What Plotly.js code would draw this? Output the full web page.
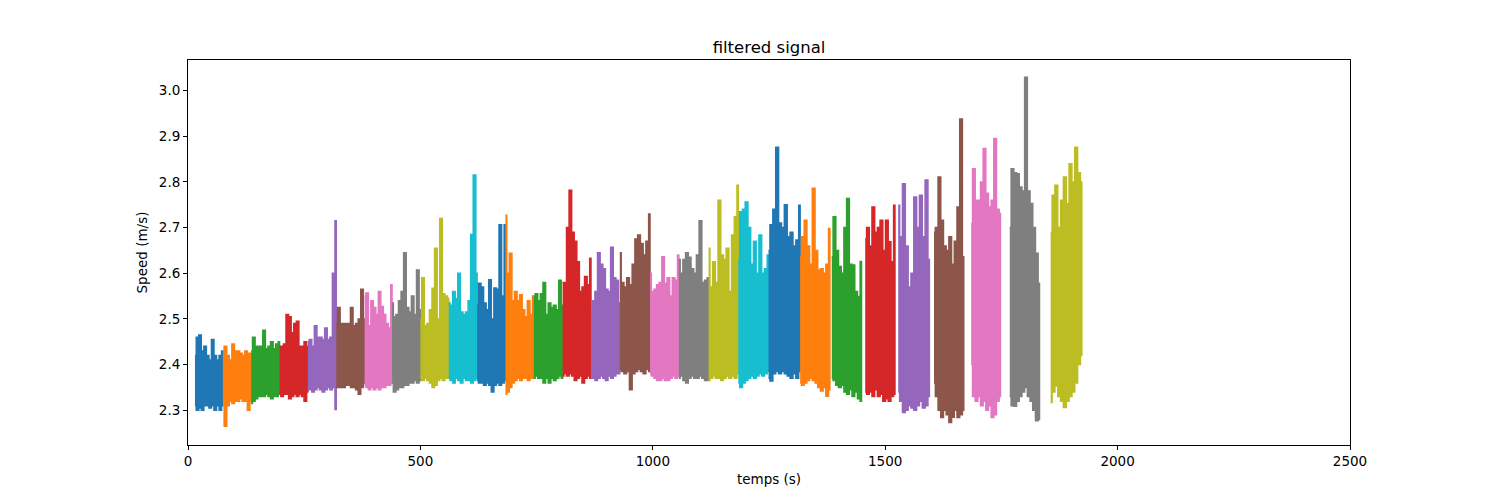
<!DOCTYPE html>
<html>
<head>
<meta charset="utf-8">
<script src="https://cdn.plot.ly/plotly-3.0.1.min.js"></script>
<style>
  html, body { margin: 0; padding: 0; background: #fff; }
  #chart { width: 1500px; height: 500px; }
</style>
</head>
<body>
<div id="chart"></div>
<script>
// each run of the signal: start / end time (s)
var segStart = [15, 75, 136, 197, 258, 319, 380, 439, 500, 561, 622, 683, 744, 806, 867,
                929, 994, 1056, 1120, 1184, 1249, 1317, 1385, 1457, 1528, 1605, 1685, 1768, 1856];
var segEnd   = [75, 136, 197, 258, 319, 380, 439, 500, 561, 622, 683, 744, 806, 867, 929,
                994, 1056, 1120, 1184, 1249, 1317, 1381, 1449, 1521, 1595, 1669, 1748, 1832, 1923];

// upper envelope of every run (m/s), evenly spread over the run
var topValues = [
  [2.42, 2.46, 2.465, 2.43, 2.44, 2.42, 2.41, 2.455, 2.42, 2.41, 2.42, 2.43],
  [2.42, 2.44, 2.42, 2.41, 2.445, 2.43, 2.43, 2.425, 2.42, 2.43, 2.425, 2.425],
  [2.43, 2.46, 2.44, 2.44, 2.44, 2.475, 2.435, 2.44, 2.45, 2.435, 2.445, 2.45],
  [2.44, 2.44, 2.445, 2.51, 2.505, 2.47, 2.49, 2.495, 2.44, 2.44, 2.45, 2.44],
  [2.45, 2.455, 2.44, 2.485, 2.46, 2.46, 2.455, 2.48, 2.455, 2.46, 2.6, 2.715],
  [2.49, 2.525, 2.49, 2.49, 2.49, 2.49, 2.525, 2.485, 2.49, 2.5, 2.565, 2.5],
  [2.55, 2.557, 2.485, 2.54, 2.525, 2.51, 2.56, 2.527, 2.51, 2.49, 2.48, 2.575],
  [2.535, 2.505, 2.51, 2.54, 2.56, 2.645, 2.525, 2.515, 2.55, 2.51, 2.607, 2.52],
  [2.5, 2.59, 2.485, 2.49, 2.52, 2.567, 2.655, 2.5, 2.72, 2.555, 2.55, 2.545],
  [2.535, 2.53, 2.56, 2.545, 2.6, 2.515, 2.51, 2.515, 2.54, 2.685, 2.815, 2.6],
  [2.53, 2.578, 2.57, 2.535, 2.52, 2.586, 2.5, 2.568, 2.565, 2.706, 2.55, 2.706],
  [2.727, 2.6, 2.644, 2.54, 2.56, 2.54, 2.553, 2.52, 2.505, 2.54, 2.51, 2.55],
  [2.55, 2.555, 2.54, 2.555, 2.58, 2.51, 2.535, 2.525, 2.53, 2.52, 2.585, 2.53],
  [2.58, 2.58, 2.7, 2.782, 2.69, 2.67, 2.625, 2.56, 2.57, 2.593, 2.575, 2.633],
  [2.52, 2.54, 2.56, 2.645, 2.62, 2.61, 2.565, 2.56, 2.657, 2.59, 2.585, 2.535],
  [2.645, 2.58, 2.57, 2.59, 2.575, 2.62, 2.675, 2.684, 2.665, 2.64, 2.67, 2.73],
  [2.6, 2.56, 2.565, 2.575, 2.58, 2.636, 2.578, 2.59, 2.55, 2.59, 2.585, 2.64],
  [2.63, 2.6, 2.63, 2.645, 2.635, 2.61, 2.6, 2.64, 2.715, 2.58, 2.585, 2.59],
  [2.655, 2.57, 2.625, 2.58, 2.76, 2.64, 2.63, 2.655, 2.56, 2.684, 2.724, 2.793],
  [2.63, 2.735, 2.74, 2.756, 2.7, 2.62, 2.67, 2.6, 2.684, 2.6, 2.61, 2.64],
  [2.65, 2.706, 2.74, 2.876, 2.71, 2.7, 2.75, 2.68, 2.69, 2.66, 2.673, 2.749],
  [2.636, 2.68, 2.716, 2.66, 2.62, 2.786, 2.65, 2.607, 2.61, 2.6, 2.62, 2.698],
  [2.636, 2.724, 2.65, 2.615, 2.6, 2.7, 2.764, 2.62, 2.618, 2.56, 2.549, 2.626],
  [2.675, 2.7, 2.66, 2.745, 2.69, 2.7, 2.716, 2.65, 2.716, 2.669, 2.625, 2.749],
  [2.749, 2.68, 2.796, 2.66, 2.57, 2.6, 2.767, 2.7, 2.771, 2.68, 2.804, 2.63],
  [2.69, 2.7, 2.811, 2.716, 2.66, 2.65, 2.68, 2.62, 2.67, 2.745, 2.938, 2.636],
  [2.709, 2.829, 2.76, 2.76, 2.8, 2.873, 2.775, 2.745, 2.76, 2.895, 2.74, 2.731],
  [2.7, 2.829, 2.82, 2.818, 2.789, 2.78, 3.029, 2.78, 2.753, 2.7, 2.644, 2.578],
  [2.69, 2.771, 2.793, 2.7, 2.76, 2.811, 2.753, 2.84, 2.8, 2.876, 2.82, 2.8]
];

// lower envelope of every run (m/s)
var bottomValues = [
  [2.31, 2.3, 2.305, 2.3, 2.31, 2.31, 2.305, 2.31, 2.3, 2.31, 2.3, 2.31],
  [2.32, 2.265, 2.31, 2.32, 2.315, 2.32, 2.32, 2.325, 2.32, 2.32, 2.3, 2.32],
  [2.315, 2.32, 2.325, 2.33, 2.33, 2.33, 2.335, 2.33, 2.325, 2.33, 2.33, 2.335],
  [2.335, 2.33, 2.335, 2.335, 2.325, 2.33, 2.335, 2.33, 2.335, 2.33, 2.32, 2.34],
  [2.345, 2.345, 2.34, 2.345, 2.35, 2.345, 2.34, 2.345, 2.35, 2.345, 2.35, 2.302],
  [2.35, 2.35, 2.35, 2.35, 2.355, 2.355, 2.35, 2.35, 2.345, 2.335, 2.35, 2.36],
  [2.355, 2.35, 2.345, 2.35, 2.345, 2.35, 2.345, 2.35, 2.35, 2.355, 2.355, 2.36],
  [2.36, 2.34, 2.345, 2.35, 2.35, 2.355, 2.355, 2.36, 2.36, 2.365, 2.36, 2.365],
  [2.37, 2.365, 2.37, 2.365, 2.36, 2.35, 2.355, 2.365, 2.37, 2.365, 2.37, 2.37],
  [2.37, 2.365, 2.36, 2.37, 2.365, 2.36, 2.37, 2.365, 2.365, 2.36, 2.365, 2.37],
  [2.365, 2.36, 2.36, 2.355, 2.36, 2.355, 2.34, 2.355, 2.36, 2.355, 2.36, 2.365],
  [2.335, 2.34, 2.35, 2.36, 2.365, 2.37, 2.365, 2.37, 2.37, 2.365, 2.37, 2.37],
  [2.37, 2.375, 2.37, 2.37, 2.36, 2.37, 2.36, 2.37, 2.365, 2.37, 2.375, 2.37],
  [2.375, 2.38, 2.375, 2.38, 2.375, 2.365, 2.37, 2.375, 2.36, 2.37, 2.375, 2.37],
  [2.375, 2.37, 2.365, 2.37, 2.375, 2.37, 2.365, 2.375, 2.37, 2.375, 2.38, 2.38],
  [2.39, 2.385, 2.38, 2.385, 2.345, 2.38, 2.385, 2.39, 2.385, 2.38, 2.39, 2.385],
  [2.38, 2.375, 2.37, 2.365, 2.365, 2.37, 2.365, 2.365, 2.37, 2.375, 2.37, 2.375],
  [2.37, 2.375, 2.365, 2.36, 2.37, 2.375, 2.37, 2.37, 2.375, 2.37, 2.365, 2.365],
  [2.365, 2.37, 2.375, 2.37, 2.37, 2.365, 2.37, 2.375, 2.37, 2.375, 2.37, 2.38],
  [2.36, 2.35, 2.36, 2.365, 2.37, 2.375, 2.37, 2.375, 2.38, 2.375, 2.38, 2.385],
  [2.37, 2.364, 2.38, 2.385, 2.38, 2.385, 2.38, 2.375, 2.37, 2.38, 2.37, 2.385],
  [2.36, 2.355, 2.36, 2.365, 2.37, 2.365, 2.36, 2.35, 2.342, 2.35, 2.331, 2.345],
  [2.37, 2.365, 2.355, 2.35, 2.355, 2.34, 2.335, 2.345, 2.33, 2.34, 2.325, 2.32],
  [2.34, 2.335, 2.34, 2.33, 2.345, 2.33, 2.335, 2.32, 2.325, 2.32, 2.33, 2.335],
  [2.34, 2.32, 2.295, 2.3, 2.31, 2.305, 2.3, 2.31, 2.32, 2.305, 2.31, 2.33],
  [2.36, 2.33, 2.3, 2.284, 2.3, 2.29, 2.273, 2.285, 2.3, 2.284, 2.29, 2.3],
  [2.4, 2.33, 2.32, 2.33, 2.31, 2.32, 2.3, 2.31, 2.284, 2.29, 2.32, 2.33],
  [2.33, 2.31, 2.309, 2.32, 2.33, 2.34, 2.35, 2.33, 2.32, 2.3, 2.277, 2.28],
  [2.317, 2.34, 2.353, 2.33, 2.32, 2.306, 2.32, 2.33, 2.34, 2.36, 2.4, 2.42]
];

var xTicks = [0, 500, 1000, 1500, 2000, 2500];
var yTicks = [2.3, 2.4, 2.5, 2.6, 2.7, 2.8, 2.9, 3.0];

var colors = ["#1f77b4", "#ff7f0e", "#2ca02c", "#d62728", "#9467bd",
              "#8c564b", "#e377c2", "#7f7f7f", "#bcbd22", "#17becf"];

var data = [];
segStart.forEach(function(t0, k) {
    var t1 = segEnd[k];
    var top = topValues[k], bot = bottomValues[k];
    var n = top.length;
    var times = top.map(function(_, i) { return t0 + i * (t1 - t0) / (n - 1); });
    var xs = times.concat(times.slice().reverse());
    var ys = top.concat(bot.slice().reverse());
    var c = colors[k % colors.length];
    data.push({
        x: xs,
        y: ys,
        type: 'scatter',
        mode: 'lines',
        fill: 'toself',
        fillcolor: c,
        line: {color: c, width: 1.5, shape: 'hvh'},
        hoverinfo: 'skip',
        showlegend: false
    });
});

var axisFont = {family: 'DejaVu Sans', size: 13.5, color: '#000'};

var layout = {
    width: 1500,
    height: 500,
    margin: {l: 188, r: 150, t: 60, b: 55},
    paper_bgcolor: '#fff',
    plot_bgcolor: '#fff',
    font: axisFont,
    title: {
        text: 'filtered signal',
        font: {family: 'DejaVu Sans', size: 16.5, color: '#000'},
        x: 0.5, xref: 'paper',
        y: 1, yref: 'paper', yanchor: 'bottom',
        pad: {b: 7}
    },
    xaxis: {
        range: [0, 2500],
        tickvals: xTicks,
        ticktext: xTicks.map(String),
        ticks: 'outside', ticklen: 4, tickwidth: 1, tickcolor: '#000',
        showline: true, linecolor: '#000', linewidth: 1, mirror: true,
        showgrid: false, zeroline: false,
        tickfont: axisFont,
        title: {text: 'temps (s)', font: axisFont, standoff: 6}
    },
    yaxis: {
        range: [2.224, 3.067],
        tickvals: yTicks,
        ticktext: yTicks.map(function(v) { return v.toFixed(1); }),
        ticks: 'outside', ticklen: 4, tickwidth: 1, tickcolor: '#000',
        showline: true, linecolor: '#000', linewidth: 1, mirror: true,
        showgrid: false, zeroline: false,
        tickfont: axisFont,
        title: {text: 'Speed (m/s)', font: axisFont, standoff: 8}
    }
};

Plotly.newPlot('chart', data, layout, {staticPlot: true});
</script>
</body>
</html>
